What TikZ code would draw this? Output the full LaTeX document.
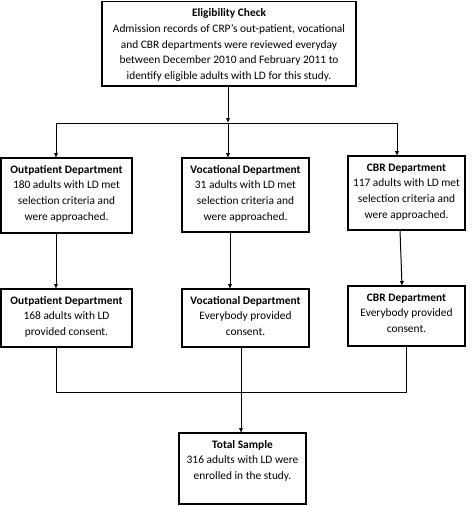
\documentclass[tikz,border=0pt]{standalone}
\usepackage{fontspec}
\setmainfont{Carlito}
\usetikzlibrary{arrows.meta}
\newcommand\bx[3]{\parbox[t][#2pt][t]{#1pt}{\centering\rule{0pt}{15pt}#3}}
\begin{document}
\begin{tikzpicture}[x=1pt,y=-1pt,
  box/.style={draw, line width=1.1pt, inner sep=0pt, outer sep=0pt, anchor=north west,
    font=\fontsize{11.4}{15.75}\selectfont},
  conn/.style={line width=1pt},
  arr/.style={conn, -{Latex[length=5pt,width=4.5pt]}}]
\useasboundingbox (0,0) rectangle (473,506);
\node[box] (top) at (102,1.5) {\bx{254}{84.5}{\textbf{Eligibility Check}\\ Admission records of CRP's out-patient, vocational\\ and CBR departments were reviewed everyday\\ between December 2010 and February 2011 to\\ identify eligible adults with LD for this study.}};
\node[box] (o1) at (1,158) {\bx{131}{75}{\textbf{Outpatient Department}\\ 180 adults with LD met\\ selection criteria and\\ were approached.}};
\node[box] (v1) at (182,158) {\bx{127}{74}{\textbf{Vocational Department}\\ 31 adults with LD met\\ selection criteria and\\ were approached.}};
\node[box] (c1) at (348,156) {\bx{117}{74}{\textbf{CBR Department}\\ 117 adults with LD met\\ selection criteria and\\ were approached.}};
\node[box] (o2) at (1,289) {\bx{131}{58}{\textbf{Outpatient Department}\\ 168 adults with LD\\ provided consent.}};
\node[box] (v2) at (182,289) {\bx{127}{58}{\textbf{Vocational Department}\\ Everybody provided\\ consent.}};
\node[box] (c2) at (348,286) {\bx{117}{60}{\textbf{CBR Department}\\ Everybody provided\\ consent.}};
\node[box] (total) at (179,433) {\bx{127}{71}{\textbf{Total Sample}\\ 316 adults with LD were\\ enrolled in the study.}};
% connectors
\coordinate (hub) at (228,123);
\coordinate (hl) at (56,123);
\coordinate (hr) at (397,123);
\coordinate (vx) at (230,0);
\coordinate (ca) at (400,0);
\coordinate (cb) at (402,0);
\coordinate (bl) at (56,392);
\coordinate (br) at (406,392);
\coordinate (mid) at (241,392);
\draw[arr] (top.south -| hub) -- (hub);
\draw[conn] (hl) -- (hr);
\draw[arr] (hl) -- (hl |- o1.north);
\draw[arr] (hub) -- (hub |- v1.north);
\draw[arr] (hr) -- (hr |- c1.north);
\draw[arr] (o1.south -| hl) -- (o2.north -| hl);
\draw[arr] (v1.south -| vx) -- (v2.north -| vx);
\draw[arr] (c1.south -| ca) -- (c2.north -| cb);
\draw[conn] (o2.south -| bl) -- (bl) -- (br) -- (c2.south -| br);
\draw[arr] (v2.south -| mid) -- (total.north -| mid);
\end{tikzpicture}
\end{document}
